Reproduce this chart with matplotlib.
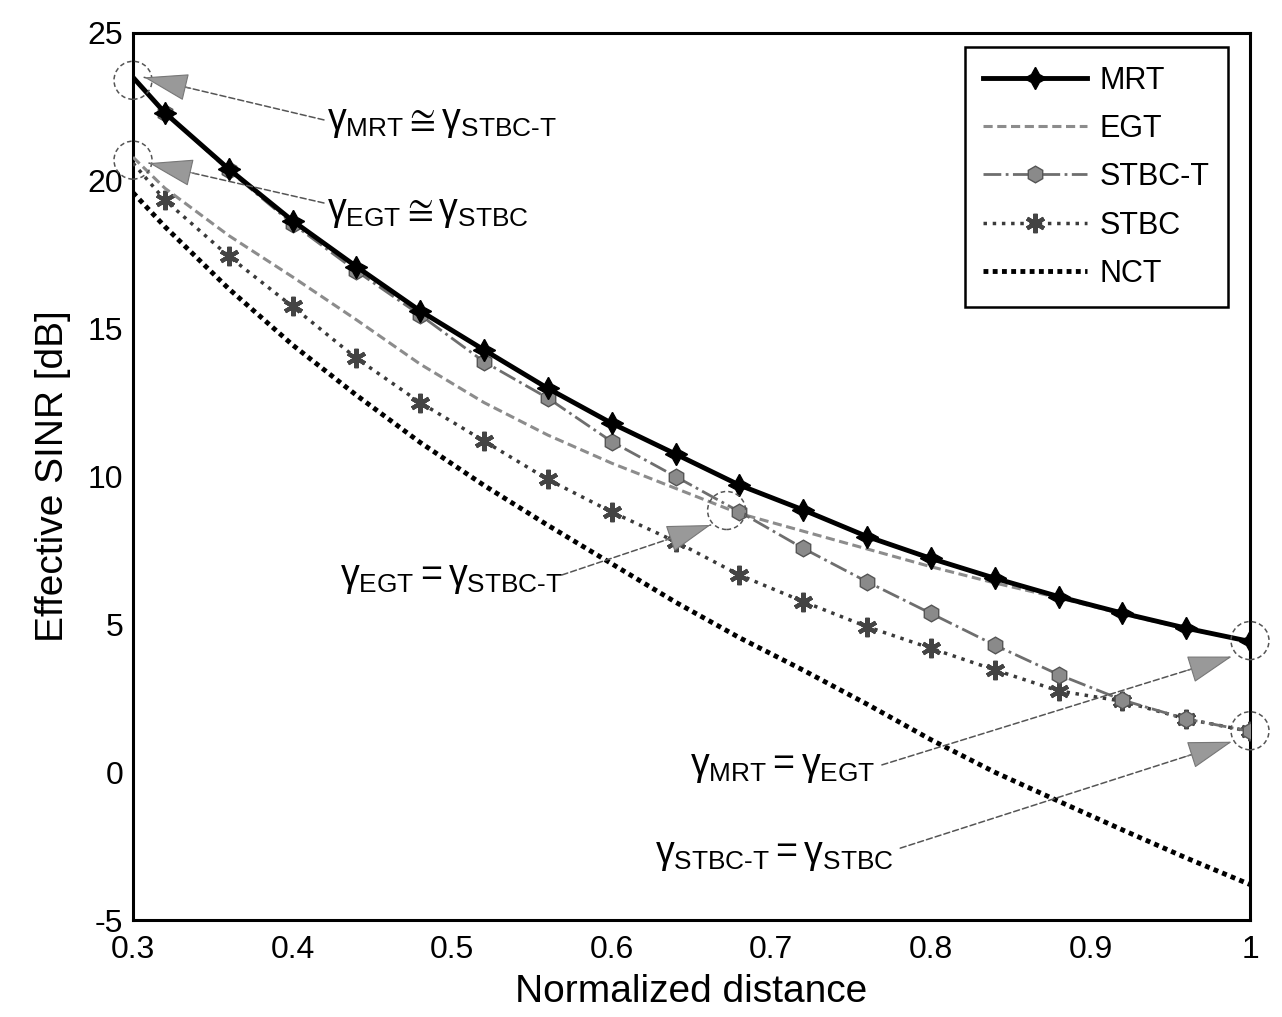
import numpy as np
import matplotlib
matplotlib.use('Agg')
import matplotlib.pyplot as plt
from matplotlib.patches import Ellipse

plt.rcParams['font.family'] = ['Liberation Sans', 'DejaVu Sans']
plt.rcParams['mathtext.fontset'] = 'custom'
plt.rcParams['mathtext.rm'] = 'Liberation Sans'
plt.rcParams['mathtext.it'] = 'Liberation Sans'
plt.rcParams['mathtext.bf'] = 'Liberation Sans:bold'
plt.rcParams['axes.unicode_minus'] = False

# data
dist = [0.30, 0.32, 0.36, 0.40, 0.44, 0.48, 0.52, 0.56, 0.60, 0.64,
        0.68, 0.72, 0.76, 0.80, 0.84, 0.88, 0.92, 0.96, 1.00]
mrt = [23.5, 22.3, 20.4, 18.65, 17.1, 15.6, 14.28, 12.98, 11.8, 10.76,
       9.71, 8.87, 7.97, 7.23, 6.56, 5.94, 5.38, 4.87, 4.42]
egt = [20.8, 19.75, 18.15, 16.75, 15.3, 13.8, 12.5, 11.4, 10.45, 9.6,
       8.75, 8.15, 7.55, 6.95, 6.4, 5.9, 5.35, 4.85, 4.42]
stbc_t = [23.5, 22.3, 20.35, 18.55, 16.95, 15.46, 13.88, 12.65, 11.18, 10.0,
          8.81, 7.57, 6.44, 5.37, 4.3, 3.3, 2.44, 1.8, 1.38]
stbc = [20.6, 19.35, 17.45, 15.75, 14.0, 12.5, 11.2, 9.9, 8.8, 7.8,
        6.67, 5.77, 4.92, 4.19, 3.46, 2.75, 2.4, 1.8, 1.38]
nct = [19.6, 18.45, 16.35, 14.45, 12.75, 11.15, 9.7, 8.35, 7.05, 5.75,
       4.55, 3.45, 2.3, 1.1, 0.0, -0.98, -1.95, -2.9, -3.8]

xticks = [0.3, 0.4, 0.5, 0.6, 0.7, 0.8, 0.9, 1.0]
xticklabels = ['0.3', '0.4', '0.5', '0.6', '0.7', '0.8', '0.9', '1']
yticks = [-5, 0, 5, 10, 15, 20, 25]

# annotations: circle centre, arrow head, arrow tail, text pos, text
circles = [(0.3, 23.4), (0.3, 20.7), (0.672, 8.85), (1.0, 4.45), (1.0, 1.4)]
arrow_heads = [(0.307, 23.5), (0.31, 20.6), (0.662, 8.36), (0.9886, 3.91), (0.9886, 1.03)]
arrow_tails = [(0.4197, 22.06), (0.4197, 19.25), (0.5688, 6.67), (0.7693, 0.245), (0.7808, -2.57)]
label_pos = [(0.4216, 22.0), (0.4216, 18.95), (0.4297, 6.57), (0.649, 0.18), (0.627, -2.8)]
label_txt = [r'$\gamma_{\mathrm{MRT}}\cong\gamma_{\text{STBC-T}}$',
             r'$\gamma_{\mathrm{EGT}}\cong\gamma_{\mathrm{STBC}}$',
             r'$\gamma_{\mathrm{EGT}}=\gamma_{\text{STBC-T}}$',
             r'$\gamma_{\mathrm{MRT}}=\gamma_{\mathrm{EGT}}$',
             r'$\gamma_{\text{STBC-T}}=\gamma_{\mathrm{STBC}}$']

fig = plt.figure(figsize=(12.82, 10.17), dpi=100, facecolor='white')
ax = fig.add_axes([133 / 1282, 97 / 1017, 1117 / 1282, 887 / 1017])

mk = list(range(1, len(dist)))
ax.plot(dist, mrt, color='black', lw=3.5, marker=(4, 1, 0), ms=16,
        markevery=mk, label='MRT', zorder=5)
ax.plot(dist, egt, color='#8c8c8c', lw=2.2, ls=(0, (3, 1.5)), label='EGT', zorder=4)
ax.plot(dist, stbc_t, color='#6e6e6e', lw=2, ls='-.', marker='h', ms=12,
        mfc='#8a8a8a', mec='#555555', markevery=mk, label='STBC-T', zorder=4)
ax.plot(dist, stbc, color='#3a3a3a', lw=2.5, ls=':', marker=(6, 2, 0), ms=14,
        mew=3, mec='#444444', markevery=mk, label='STBC', zorder=3)
ax.plot(dist, nct, color='black', lw=3.5, ls=(0, (1, 0.9)), label='NCT', zorder=3)

ax.set_xlim(0.3, 1.0)
ax.set_ylim(-5, 25)
ax.set_xticks(xticks)
ax.set_xticklabels(xticklabels)
ax.set_yticks(yticks)
ax.tick_params(length=0, labelsize=23)
ax.tick_params(axis='x', pad=11)
ax.tick_params(axis='y', pad=7)
for s in ax.spines.values():
    s.set_linewidth(2.2)

ax.set_xlabel('Normalized distance', fontsize=28, labelpad=6)
ax.set_ylabel('Effective SINR [dB]', fontsize=28, labelpad=12)

leg = ax.legend(loc='upper right', bbox_to_anchor=(0.980, 0.984), fontsize=22,
                handlelength=3.4, handletextpad=0.4, labelspacing=0.6,
                fancybox=False, framealpha=1, edgecolor='black',
                borderpad=0.6, borderaxespad=0)
leg.get_frame().set_linewidth(1.8)

# dashed circles
for cx, cy in circles:
    e = Ellipse((cx, cy), 2 * 19 / 1596, 2 * 19 / 29.57, fill=False,
                edgecolor='#555555', lw=1.1, ls=(0, (3, 2)), clip_on=False, zorder=6)
    ax.add_patch(e)

fig.canvas.draw()
inv = ax.transData.inverted()
for head, tail in zip(arrow_heads, arrow_tails):
    ax.annotate('', xy=head, xytext=tail,
                arrowprops=dict(arrowstyle='-', color='#555555', lw=1.1,
                                ls=(0, (4, 2)), shrinkA=0, shrinkB=0), zorder=6)
    ph = ax.transData.transform(head)
    pt = ax.transData.transform(tail)
    d = (ph - pt) / np.hypot(*(ph - pt))
    back = inv.transform(ph - d * 48)
    ax.annotate('', xy=head, xytext=back,
                arrowprops=dict(arrowstyle='-|>,head_length=1.45,head_width=0.45',
                                mutation_scale=20, facecolor='#999999',
                                edgecolor='#777777', lw=0.8, shrinkA=0, shrinkB=0),
                zorder=7)

for (tx, ty), t in zip(label_pos, label_txt):
    ax.text(tx, ty, t, fontsize=27, ha='left', va='center', zorder=8)

fig.savefig('out.png', dpi=100, facecolor='white')
